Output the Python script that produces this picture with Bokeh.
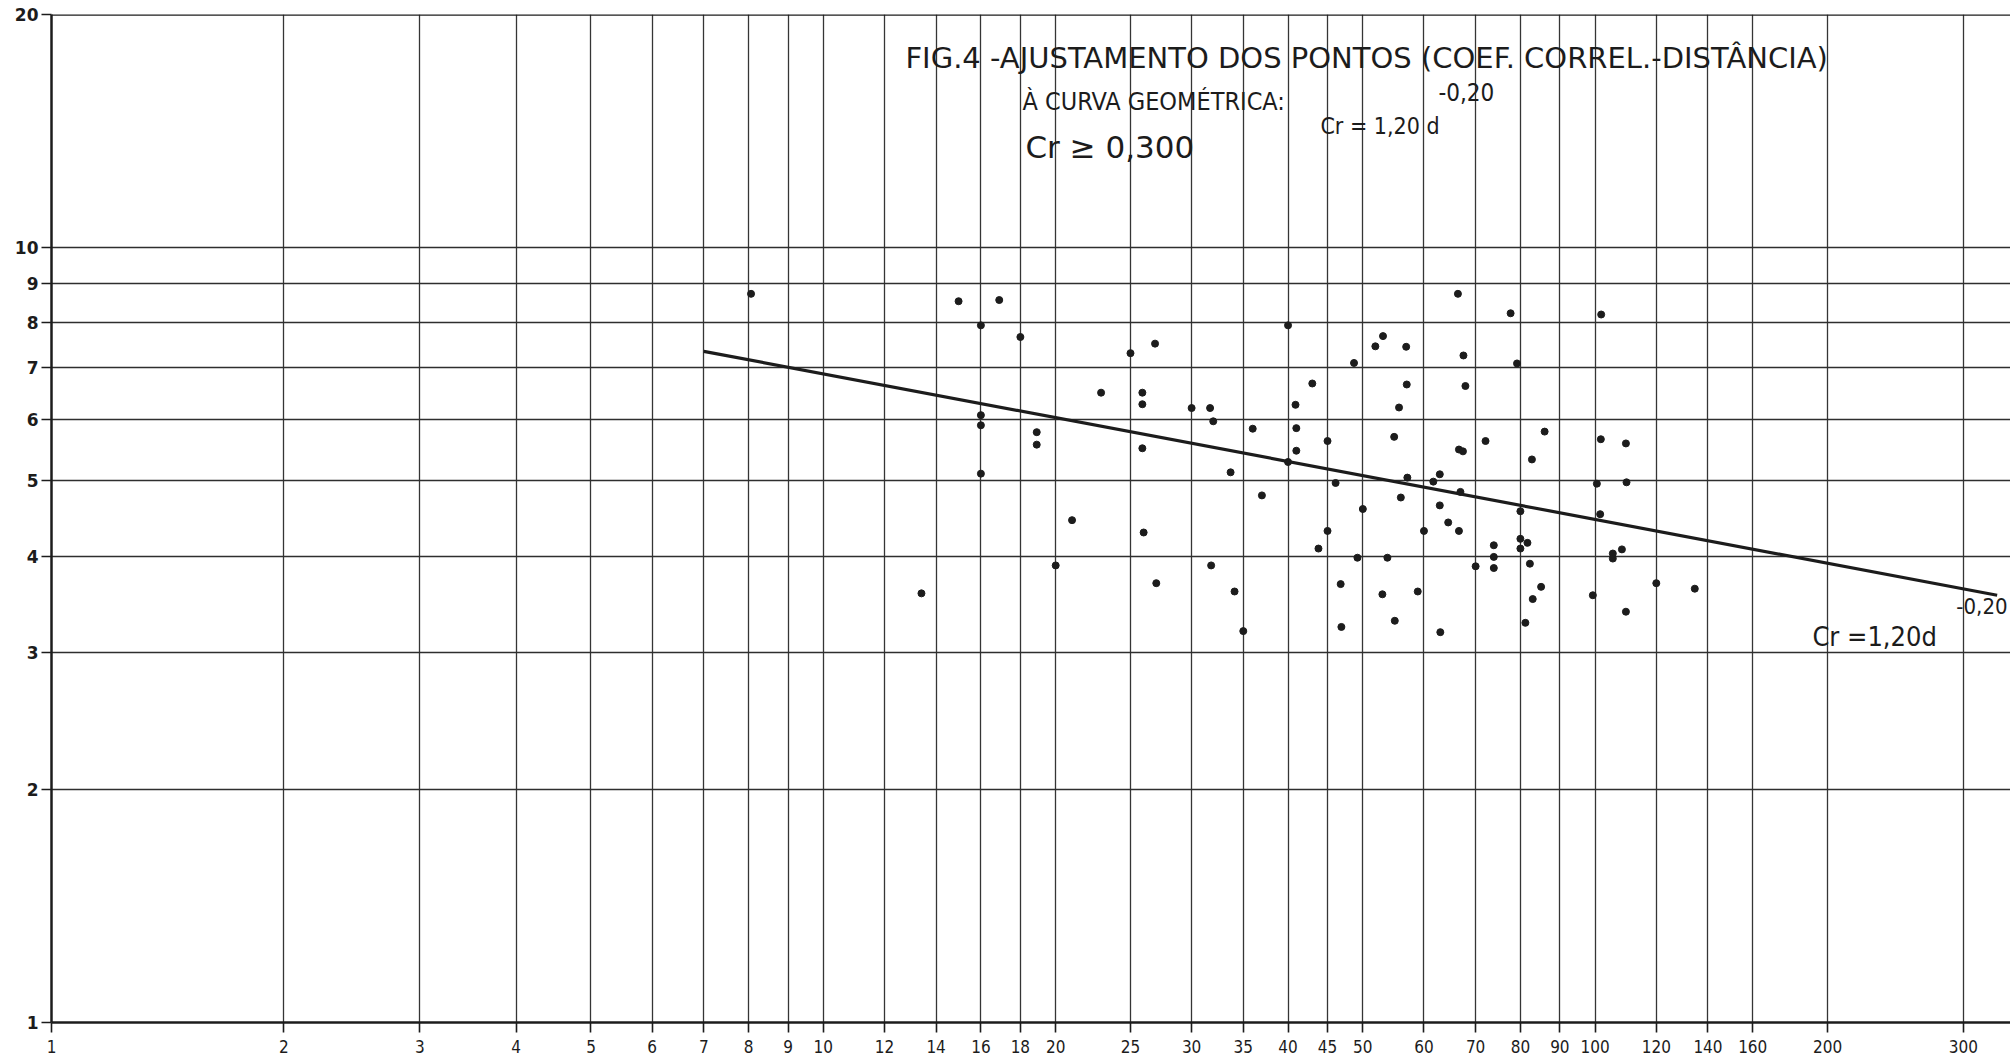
from bokeh.plotting import figure
from bokeh.models import FixedTicker, Label, Span
from bokeh.embed import file_html
from bokeh.resources import INLINE

# ---- data ----
x_ticks = [1, 2, 3, 4, 5, 6, 7, 8, 9, 10, 12, 14, 16, 18, 20, 25, 30, 35, 40, 45,
           50, 60, 70, 80, 90, 100, 120, 140, 160, 200, 300]
x_tick_labels = [str(t) for t in x_ticks]
y_ticks = [1, 2, 3, 4, 5, 6, 7, 8, 9, 10, 20]
y_tick_labels = [str(t) for t in y_ticks]

dist = [8.06, 14.97, 16.9, 16.0, 18.0, 26.9, 25.0, 22.9, 25.9, 25.9, 16.0, 16.0, 16.0,
        18.9, 18.9, 25.9, 21.0, 26.0, 20.0, 27.0, 13.4,
        30.0, 31.7, 32.0, 36.0, 40.0, 40.9, 41.0, 41.0, 43.0, 45.0, 48.7, 51.9, 53.1,
        56.9, 57.0, 55.7, 54.9,
        66.4, 77.7, 101.8, 67.5, 79.2, 67.9, 86.0, 72.1, 66.6, 67.4, 82.8, 101.7, 109.6,
        33.7, 37.0, 40.0, 46.1, 50.0, 45.0, 43.8, 57.1, 61.7, 56.0, 60.0, 49.2, 53.8,
        31.8, 34.1, 35.0, 46.8, 53.0, 58.9, 55.0, 46.9,
        62.9, 66.9, 62.9, 64.5, 66.6, 73.9, 73.9, 73.9, 70.0, 80.0, 81.7, 80.0, 82.3,
        85.1, 83.0, 81.2, 63.0, 100.5, 109.8, 101.5, 105.4, 105.4, 108.3, 99.3, 109.6,
        120.0, 134.6, 80.0]
coef = [8.72, 8.53, 8.56, 7.94, 7.67, 7.52, 7.31, 6.50, 6.50, 6.28, 6.08, 5.90, 5.11,
        5.78, 5.57, 5.51, 4.45, 4.29, 3.89, 3.69, 3.58,
        6.21, 6.21, 5.97, 5.84, 7.94, 6.27, 5.85, 5.47, 6.68, 5.63, 7.10, 7.46, 7.69,
        7.45, 6.66, 6.22, 5.70,
        8.72, 8.23, 8.20, 7.26, 7.09, 6.63, 5.79, 5.63, 5.49, 5.46, 5.33, 5.66, 5.59,
        5.13, 4.79, 5.29, 4.97, 4.60, 4.31, 4.09, 5.05, 4.99, 4.76, 4.31, 3.98, 3.98,
        3.89, 3.60, 3.20, 3.68, 3.57, 3.60, 3.30, 3.24,
        5.10, 4.84, 4.65, 4.42, 4.31, 4.13, 3.99, 3.86, 3.88, 4.21, 4.16, 4.09, 3.91,
        3.65, 3.52, 3.28, 3.19, 4.96, 4.98, 4.53, 4.03, 3.97, 4.08, 3.56, 3.39,
        3.69, 3.63, 4.57]

fit_x = [7.0, 331.7]
fit_y = [7.35, 3.56]

X_MIN, X_MAX = 1, 345.2
Y_MIN, Y_MAX = 1, 20

INK = "#1c1c1c"
FONT = "DejaVu Sans"
NARROW = "DejaVu Sans Condensed"

p = figure(x_axis_type="log", y_axis_type="log",
           x_range=(X_MIN, X_MAX), y_range=(Y_MIN, Y_MAX),
           frame_width=1959, frame_height=1008,
           min_border_left=51, min_border_right=0, min_border_top=14, min_border_bottom=40,
           output_backend="svg", toolbar_location=None,
           background_fill_color="#ffffff", border_fill_color="#ffffff")
p.outline_line_color = None

# axes
p.xaxis.ticker = FixedTicker(ticks=x_ticks, minor_ticks=[])
p.yaxis.ticker = FixedTicker(ticks=y_ticks, minor_ticks=[])
p.xaxis.major_label_overrides = {t: l for t, l in zip(x_ticks, x_tick_labels)}
p.yaxis.major_label_overrides = {t: l for t, l in zip(y_ticks, y_tick_labels)}
for ax in (p.xaxis, p.yaxis):
    ax.axis_line_color = INK
    ax.axis_line_width = 2.5
    ax.major_tick_line_color = INK
    ax.major_tick_line_width = 1.6
    ax.major_tick_in = 0
    ax.major_tick_out = 10
    ax.minor_tick_line_color = None
    ax.major_label_text_color = INK
p.xaxis.major_label_text_font = NARROW
p.xaxis.major_label_text_font_size = "17px"
p.xaxis.major_label_standoff = 7
p.yaxis.major_label_text_font = FONT
p.yaxis.major_label_text_font_size = "17px"
p.yaxis.major_label_text_font_style = "bold"
p.yaxis.major_label_standoff = 3

# grid (graph paper)
p.xgrid.grid_line_color = "#353535"
p.xgrid.grid_line_width = 1.3
p.ygrid.grid_line_color = "#2e2e2e"
p.ygrid.grid_line_width = 1.6

p.add_layout(Span(location=Y_MAX, dimension="width", line_color=INK, line_width=2.5))

# data
p.scatter(dist, coef, size=7, color=INK, line_color=INK)
p.line(fit_x, fit_y, line_width=3.2, color=INK)

# annotations (pixel positions of the scan converted to data space)
def dx(px):
    return 10 ** ((px - 51) / 771.9)

def dy(py):
    return 10 ** ((1022 - py) / 774.0)

def label(txt, px, py, size, font=NARROW):
    p.add_layout(Label(x=dx(px), y=dy(py), text=txt, text_font=font,
                       text_font_size=size, text_color=INK,
                       text_baseline="middle", text_align="left"))

label("FIG.4  -AJUSTAMENTO DOS PONTOS (COEF. CORREL.-DISTÂNCIA)", 905, 58, "29px", FONT)
label("À CURVA GEOMÉTRICA:", 1022, 102, "25px")
label("Cr ≥ 0,300", 1025, 147, "31px", FONT)
label("Cr = 1,20 d", 1320, 126, "23px")
label("-0,20", 1438, 92, "24px")
label("Cr =1,20d", 1812, 636, "27px")
label("-0,20", 1956, 606, "22px")

open("out.html", "w").write(file_html(p, INLINE))
